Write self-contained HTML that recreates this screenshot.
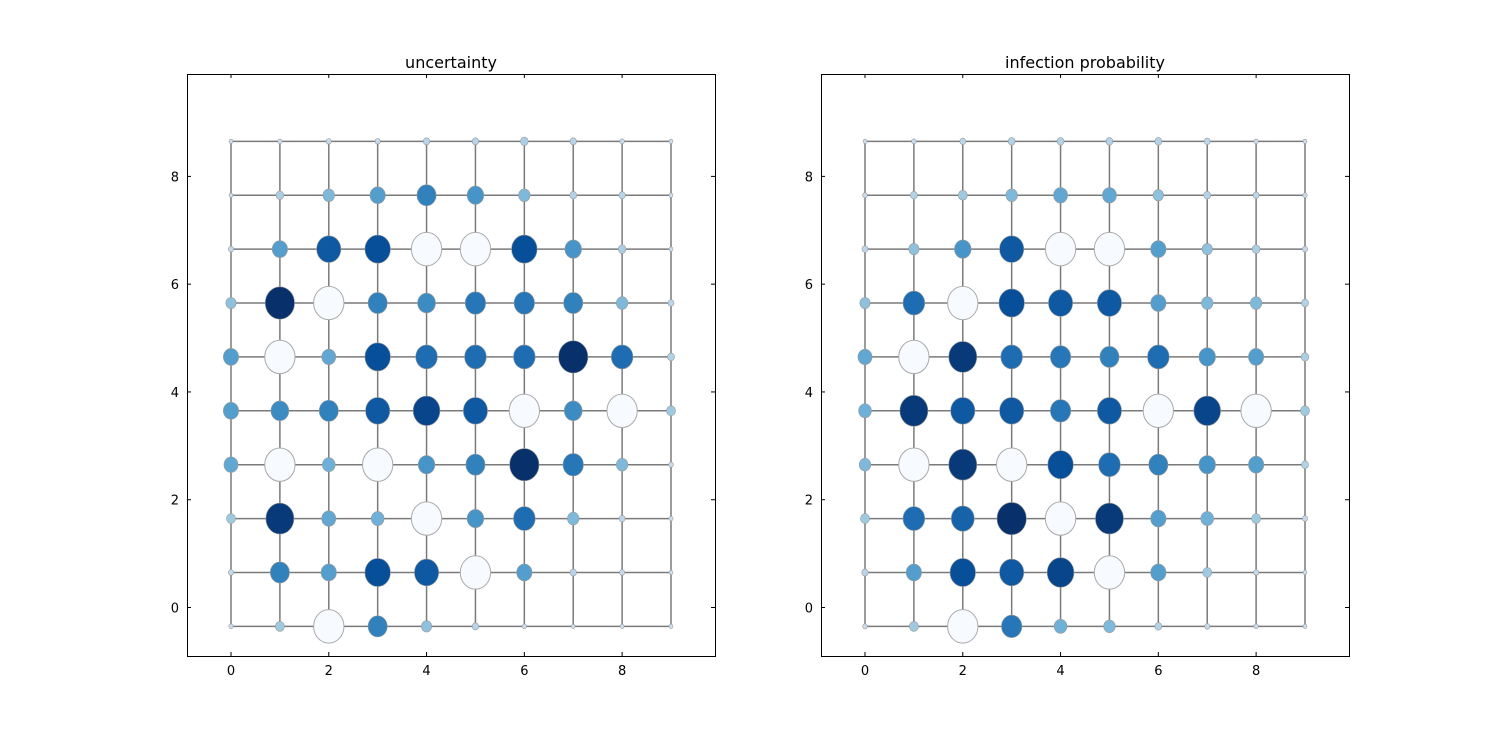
<!DOCTYPE html>
<html><head><meta charset="utf-8"><style>
body{margin:0;background:#fff;}
svg{display:block;font-family:"DejaVu Sans","Liberation Sans",sans-serif;}
</style></head><body>
<svg id="fig" width="1500" height="750" viewBox="0 0 1500 750" xmlns="http://www.w3.org/2000/svg">
<rect width="1500" height="750" fill="#fff"/>
</svg>
<script>
// W = observed node (white). Rows from top (row 9) to bottom (row 0), columns x=0..9
const W = -1;
const xTicks = [0, 2, 4, 6, 8];
const yTicks = [0, 2, 4, 6, 8];
const titles = ["uncertainty", "infection probability"];
const uncertaintyValues = [
 [0.0,0.02,0.05,0.05,0.1,0.1,0.15,0.1,0.03,0.0],
 [0.0,0.15,0.3,0.45,0.6,0.5,0.3,0.12,0.1,0.0],
 [0.05,0.45,0.8,0.85,W,W,0.85,0.5,0.15,0.0],
 [0.25,1.0,W,0.6,0.55,0.65,0.65,0.6,0.3,0.08],
 [0.45,W,0.4,0.85,0.7,0.7,0.7,1.0,0.7,0.12],
 [0.45,0.55,0.6,0.8,0.9,0.8,W,0.55,W,0.2],
 [0.4,W,0.35,W,0.5,0.6,1.0,0.65,0.3,0.03],
 [0.2,0.95,0.4,0.35,W,0.5,0.7,0.3,0.08,0.01],
 [0.05,0.6,0.45,0.85,0.8,W,0.45,0.1,0.05,0.0],
 [0.02,0.2,W,0.6,0.25,0.1,0.02,0.0,0.0,0.0]
];
const infectionValues = [
 [0.0,0.03,0.08,0.12,0.12,0.12,0.12,0.08,0.02,0.0],
 [0.03,0.12,0.2,0.3,0.4,0.4,0.25,0.12,0.08,0.02],
 [0.08,0.25,0.5,0.8,W,W,0.45,0.25,0.15,0.05],
 [0.25,0.7,W,0.85,0.8,0.8,0.45,0.3,0.3,0.12],
 [0.4,W,0.95,0.7,0.65,0.6,0.7,0.5,0.45,0.15],
 [0.35,0.95,0.8,0.8,0.65,0.8,W,0.9,W,0.2],
 [0.3,W,0.95,W,0.85,0.7,0.6,0.5,0.45,0.12],
 [0.2,0.7,0.75,1.0,W,0.95,0.45,0.35,0.2,0.05],
 [0.1,0.45,0.85,0.8,0.9,W,0.45,0.2,0.05,0.0],
 [0.03,0.2,W,0.65,0.35,0.3,0.12,0.05,0.02,0.0]
];
const NS = "http://www.w3.org/2000/svg";
const svgEl = document.getElementById('fig');
const blues = ["#f7fbff","#deebf7","#c6dbef","#9ecae1","#6baed6","#4292c6","#2171b5","#08519c","#08306b"];
function hex(h){return [1,3,5].map(i=>parseInt(h.substr(i,2),16));}
function cmap(t){t=Math.max(0,Math.min(1,t));const p=t*8,i=Math.min(7,Math.floor(p)),f=p-i;
 const a=hex(blues[i]),b=hex(blues[i+1]);return "rgb("+a.map((v,k)=>Math.round(v+(b[k]-v)*f)).join(",")+")";}
function mk(tag, attrs, parent){const e=document.createElementNS(NS,tag);for(const k in attrs)e.setAttribute(k,attrs[k]);(parent||svgEl).appendChild(e);return e;}
const axesList = [{left:187, data:uncertaintyValues},{left:821, data:infectionValues}];
const axTop=74, axBottom=656, axWidth=528;
const dmin=-0.9, dmax=9.9;
axesList.forEach((ax, ai) => {
 const g = mk('g', {});
 
 
 const sx = v => ax.left + (v - dmin) / (dmax - dmin) * axWidth;
 const sy = v => axBottom - (v - dmin) / (dmax - dmin) * (axBottom - axTop);
 const off = -0.35;
 const eg = mk('g', {stroke:"#7a7a7a","stroke-width":1.5}, g);
 
 
 for (let j=0;j<10;j++){
  mk('line',{x1:sx(0),x2:sx(9),y1:sy(j+off),y2:sy(j+off)},eg);
  mk('line',{x1:sx(j),x2:sx(j),y1:sy(off),y2:sy(9+off)},eg);
 }
 const ng = mk('g', {}, g);
 
 
 ax.data.forEach((row, ri) => {
  const j = 9 - ri;
  row.forEach((v, i) => {
   const obs = v === W;
   const r = obs ? 0.31 : 0.04 + 0.26 * v;
   const c = mk('ellipse', {cx:sx(i), cy:sy(j+off), rx:sx(r)-sx(0), ry:sy(0)-sy(r),
     fill: obs ? "#f7fbff" : cmap(0.22 + 0.78*v), stroke: obs ? "#aaaaaa" : "#9a9a9a", "stroke-width": obs?1:0.6}, ng);
   
   
  });
 });
 const fr = mk('rect',{x:ax.left+0.5,y:axTop+0.5,width:axWidth,height:axBottom-axTop,fill:"none",stroke:"#000","stroke-width":1},g);
 
 
 xTicks.forEach(t => {
  const x = sx(t);
  mk('line',{x1:x,x2:x,y1:axBottom,y2:axBottom-4,stroke:"#000"},g);
  mk('line',{x1:x,x2:x,y1:axTop,y2:axTop+4,stroke:"#000"},g);
  const tx = mk('text',{x:x,y:axBottom+19,"text-anchor":"middle","font-size":13},g);
  tx.textContent = t;
  
  
 });
 yTicks.forEach(t => {
  const y = sy(t);
  mk('line',{x1:ax.left,x2:ax.left+4,y1:y,y2:y,stroke:"#000"},g);
  mk('line',{x1:ax.left+axWidth,x2:ax.left+axWidth-4,y1:y,y2:y,stroke:"#000"},g);
  const tx = mk('text',{x:ax.left-8,y:y+5,"text-anchor":"end","font-size":13},g);
  tx.textContent = t;
  
  
 });
 const tt = mk('text',{x:ax.left+axWidth/2,y:68,"text-anchor":"middle","font-size":16},g);
 tt.textContent = titles[ai];
 
 
});
</script>
</body></html>
